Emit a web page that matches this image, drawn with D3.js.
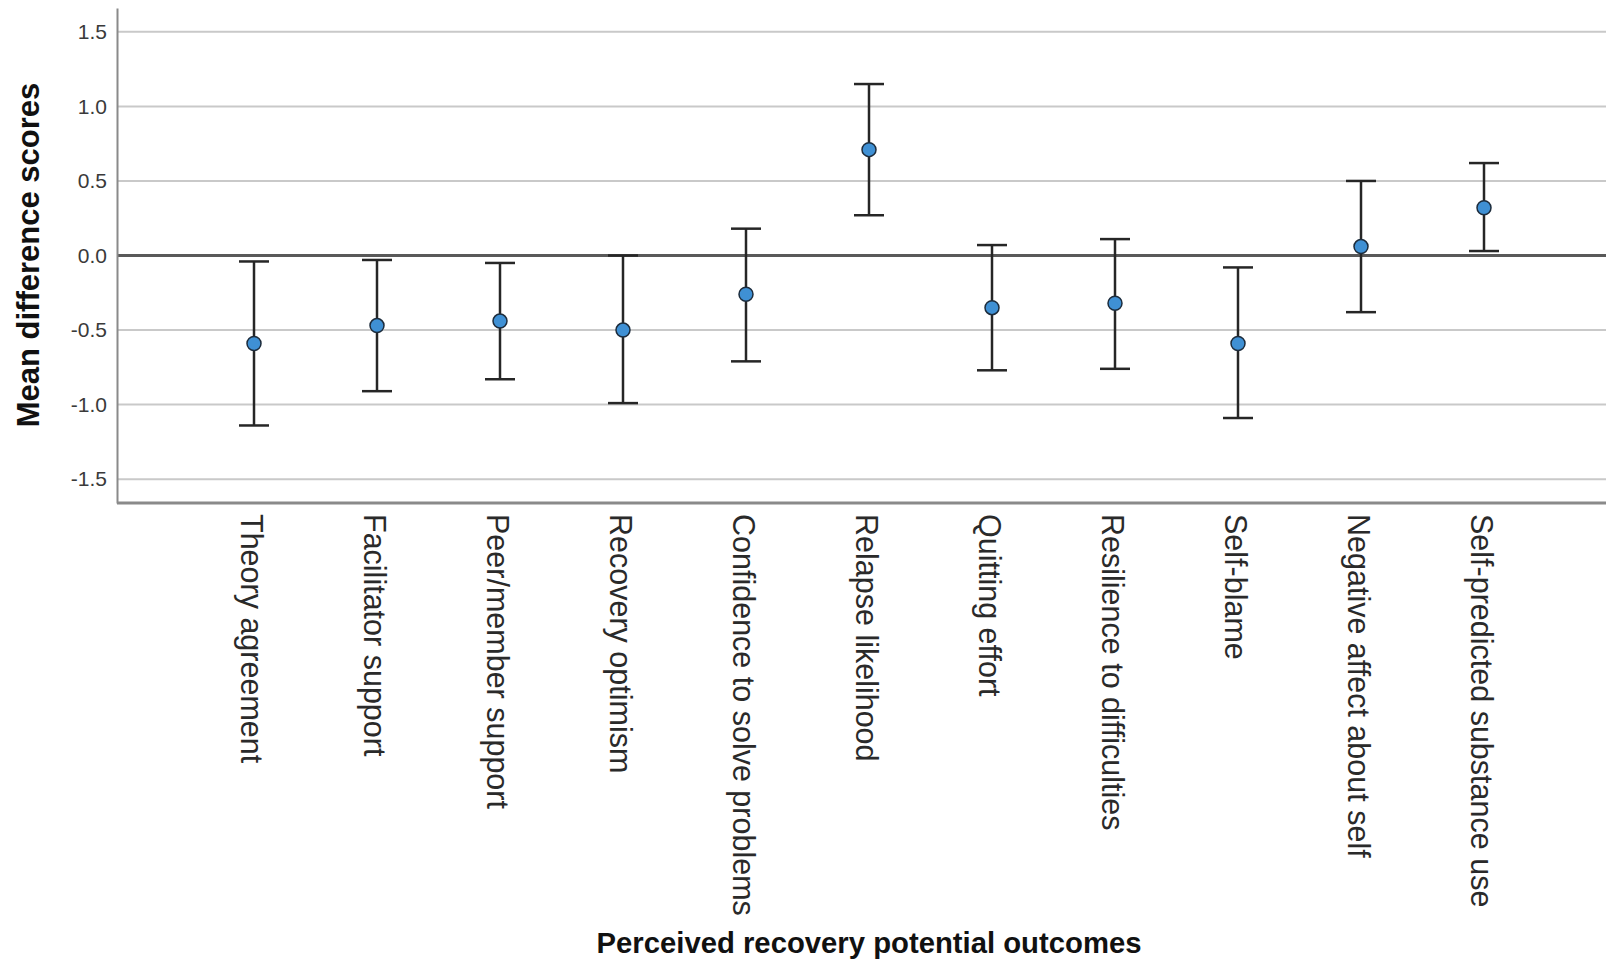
<!DOCTYPE html>
<html>
<head>
<meta charset="utf-8">
<script src="https://cdn.jsdelivr.net/npm/d3@7/dist/d3.min.js"></script>
<style>
  html, body { margin: 0; padding: 0; background: #fff; }
  svg { display: block; font-family: "Liberation Sans", Arial, sans-serif; }
</style>
</head>
<body>
<svg id="chart" width="1606" height="962"></svg>
<script>
const categories = [
  "Theory agreement",
  "Facilitator support",
  "Peer/member support",
  "Recovery optimism",
  "Confidence to solve problems",
  "Relapse likelihood",
  "Quitting effort",
  "Resilience to difficulties",
  "Self-blame",
  "Negative affect about self",
  "Self-predicted substance use"
];
const means = [-0.59, -0.47, -0.44, -0.50, -0.26, 0.71, -0.35, -0.32, -0.59, 0.06, 0.32];
const lower = [-1.14, -0.91, -0.83, -0.99, -0.71, 0.27, -0.77, -0.76, -1.09, -0.38, 0.03];
const upper = [-0.04, -0.03, -0.05, 0.00, 0.18, 1.15, 0.07, 0.11, -0.08, 0.50, 0.62];
const yTicks = [-1.5, -1.0, -0.5, 0.0, 0.5, 1.0, 1.5];
const yTitle = "Mean difference scores";
const xTitle = "Perceived recovery potential outcomes";

const data = categories.map((c, i) => ({ cat: c, mean: means[i], lo: lower[i], hi: upper[i] }));

const svg = d3.select("#chart");
const plotLeft = 117, plotRight = 1606, plotTop = 8, plotBottom = 503;

const x = d3.scalePoint().domain(categories).range([254, 1484]);
const y = d3.scaleLinear().domain([-1.66, 1.66]).range([plotBottom, plotTop]);

// gridlines
svg.append("g")
  .selectAll("line")
  .data(yTicks.filter(t => t !== 0))
  .join("line")
  .attr("x1", plotLeft).attr("x2", plotRight)
  .attr("y1", d => y(d)).attr("y2", d => y(d))
  .attr("stroke", "#c9c9c9").attr("stroke-width", 2);

// zero reference line
svg.append("line")
  .attr("x1", plotLeft).attr("x2", plotRight)
  .attr("y1", y(0)).attr("y2", y(0))
  .attr("stroke", "#595959").attr("stroke-width", 3);

// y axis
const fmt = d3.format(".1f");
const yAxis = d3.axisLeft(y).tickValues(yTicks).tickSize(0).tickPadding(10)
  .tickFormat(d => fmt(d).replace("\u2212", "-"));
const gy = svg.append("g").attr("transform", `translate(${plotLeft},0)`).call(yAxis);
gy.select(".domain").attr("stroke", "#8a8a8a").attr("stroke-width", 2);
gy.selectAll("text").attr("font-size", 21).attr("fill", "#3a3a3a")
  .attr("font-family", "\"Liberation Sans\", Arial, sans-serif");

// x axis (baseline)
const xAxis = d3.axisBottom(x).tickSize(0).tickFormat("");
const gx = svg.append("g").attr("transform", `translate(0,${plotBottom})`).call(xAxis);
gx.select(".domain").attr("d", `M${plotLeft},0H${plotRight}`)
  .attr("stroke", "#8a8a8a").attr("stroke-width", 3);

// x category labels (rotated)
svg.append("g")
  .selectAll("text")
  .data(categories)
  .join("text")
  .attr("transform", d => `translate(${x(d)},514) rotate(90)`)
  .attr("dy", 13)
  .attr("text-anchor", "start")
  .attr("font-size", 30.5)
  .attr("fill", "#2a2a2a")
  .text(d => d);

// error bars
const eb = svg.append("g");
eb.selectAll("line.stem")
  .data(data).join("line").attr("class", "stem")
  .attr("x1", d => x(d.cat)).attr("x2", d => x(d.cat))
  .attr("y1", d => y(d.lo)).attr("y2", d => y(d.hi))
  .attr("stroke", "#262626").attr("stroke-width", 2.5);
eb.selectAll("line.capHi")
  .data(data).join("line").attr("class", "capHi")
  .attr("x1", d => x(d.cat) - 15).attr("x2", d => x(d.cat) + 15)
  .attr("y1", d => y(d.hi)).attr("y2", d => y(d.hi))
  .attr("stroke", "#262626").attr("stroke-width", 2.5);
eb.selectAll("line.capLo")
  .data(data).join("line").attr("class", "capLo")
  .attr("x1", d => x(d.cat) - 15).attr("x2", d => x(d.cat) + 15)
  .attr("y1", d => y(d.lo)).attr("y2", d => y(d.lo))
  .attr("stroke", "#262626").attr("stroke-width", 2.5);

// mean points
svg.append("g")
  .selectAll("circle")
  .data(data).join("circle")
  .attr("cx", d => x(d.cat)).attr("cy", d => y(d.mean))
  .attr("r", 7)
  .attr("fill", "#3f90d4")
  .attr("stroke", "#1d2c3c").attr("stroke-width", 1.5);

// axis titles
svg.append("text")
  .attr("transform", `translate(39,255) rotate(-90)`)
  .attr("text-anchor", "middle")
  .attr("font-size", 31).attr("font-weight", "bold").attr("fill", "#111")
  .text(yTitle);

svg.append("text")
  .attr("x", 869).attr("y", 953)
  .attr("text-anchor", "middle")
  .attr("font-size", 30).attr("font-weight", "bold").attr("fill", "#111")
  .attr("textLength", 545).attr("lengthAdjust", "spacingAndGlyphs")
  .text(xTitle);
</script>
</body>
</html>
